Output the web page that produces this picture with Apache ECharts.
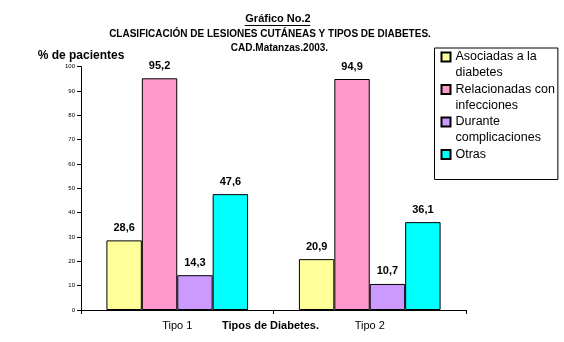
<!DOCTYPE html>
<html>
<head>
<meta charset="utf-8">
<script src="https://cdn.jsdelivr.net/npm/echarts@6/dist/echarts.min.js"></script>
<style>
  html, body { margin: 0; padding: 0; background: #fff; }
  #chart { width: 564px; height: 342px; }
</style>
</head>
<body>
<div id="chart"></div>
<script>
// Categories and values (% de pacientes)
const categories = ['Tipo 1', 'Tipo 2'];
const seriesNames = ['Asociadas a la\ndiabetes', 'Relacionadas con\ninfecciones', 'Durante\ncomplicaciones', 'Otras'];
const asociadas = [28.6, 20.9];
const relacionadas = [95.2, 94.9];
const durante = [14.3, 10.7];
const otras = [47.6, 36.1];
const yTicks = [0, 10, 20, 30, 40, 50, 60, 70, 80, 90, 100];

const seriesValues = [asociadas, relacionadas, durante, otras];
const colors = ['#FFFF99', '#FF99CC', '#CC99FF', '#00FFFF'];
const FONT = '"Liberation Sans", Arial, sans-serif';

// Legend swatch: a 9x9 square at the top of a two-line tall box
const swatch = 'path://M0,0M0,3.5H9V12.5H0ZM9,32';

const chart = echarts.init(document.getElementById('chart'), null, { renderer: 'canvas' });

const option = {
  animation: false,
  backgroundColor: '#ffffff',
  textStyle: { fontFamily: FONT, color: '#000' },
  title: [
    { text: 'Gráfico No.2', left: 273, top: 8, textAlign: 'center',
      textStyle: { fontFamily: FONT, fontSize: 11, fontWeight: 'bold', color: '#000' } },
    { text: 'CLASIFICACIÓN DE LESIONES CUTÁNEAS Y TIPOS DE DIABETES.', left: 265, top: 24, textAlign: 'center',
      textStyle: { fontFamily: FONT, fontSize: 10, fontWeight: 'bold', color: '#000' } },
    { text: 'CAD.Matanzas.2003.', left: 274.5, top: 38, textAlign: 'center',
      textStyle: { fontFamily: FONT, fontSize: 10, fontWeight: 'bold', color: '#000' } }
  ],
  legend: {
    orient: 'vertical',
    left: 434.5,
    top: 48,
    padding: [0, 3, 0, 6],
    borderColor: '#000',
    borderWidth: 1,
    itemWidth: 9,
    itemHeight: 32,
    itemGap: -1.5,
    icon: swatch,
    selectedMode: false,
    formatter: name => name === 'Otras' ? 'Otras\n\u00a0' : name,
    textStyle: { fontFamily: FONT, fontSize: 12.5, lineHeight: 16, color: '#000' },
    data: seriesNames
  },
  grid: { left: 81, right: 98, top: 66.6, bottom: 32, containLabel: false, outerBoundsMode: 'none' },
  xAxis: {
    type: 'category',
    data: categories,
    name: 'Tipos de Diabetes.',
    nameLocation: 'middle',
    nameGap: 10,
    nameMoveOverlap: false,
    nameTextStyle: { fontFamily: FONT, fontSize: 11, fontWeight: 'bold', color: '#000', padding: [0, 6, 0, 0] },
    axisLine: { lineStyle: { color: '#000', width: 1 } },
    axisTick: { show: true, length: 4, lineStyle: { color: '#000' } },
    axisLabel: { fontFamily: FONT, fontSize: 11, color: '#000', margin: 10 }
  },
  yAxis: {
    type: 'value',
    min: yTicks[0],
    max: yTicks[yTicks.length - 1],
    interval: yTicks[1] - yTicks[0],
    name: '% de pacientes',
    nameLocation: 'end',
    nameGap: 5,
    nameTextStyle: { fontFamily: FONT, fontSize: 12, fontWeight: 'bold', color: '#000' },
    axisLine: { show: true, lineStyle: { color: '#000', width: 1 } },
    axisTick: { show: true, length: 4, lineStyle: { color: '#000' } },
    axisLabel: { fontFamily: FONT, fontSize: 6, color: '#000', margin: 6 },
    splitLine: { show: false }
  },
  series: seriesNames.map((name, i) => ({
    name: name,
    type: 'bar',
    data: seriesValues[i],
    barGap: '0%',
    barCategoryGap: '26.4%',
    itemStyle: { color: colors[i], borderColor: '#000', borderWidth: 1 },
    label: {
      show: true,
      position: 'top',
      distance: 7,
      fontFamily: FONT,
      fontSize: 11,
      fontWeight: 'bold',
      color: '#000',
      formatter: p => String(p.value).replace('.', ',')
    }
  }))
};

chart.setOption(option);

// Underline below the first title line, sized from its rendered text width
const ctx = document.createElement('canvas').getContext('2d');
ctx.font = 'bold 11px ' + FONT;
const w = ctx.measureText('Gráfico No.2').width;
chart.setOption({
  graphic: [{
    type: 'line',
    shape: { x1: 277.5 - w / 2, y1: 25.5, x2: 277.5 + w / 2, y2: 25.5 },
    style: { stroke: '#000', lineWidth: 1 }
  }]
});
</script>
</body>
</html>
